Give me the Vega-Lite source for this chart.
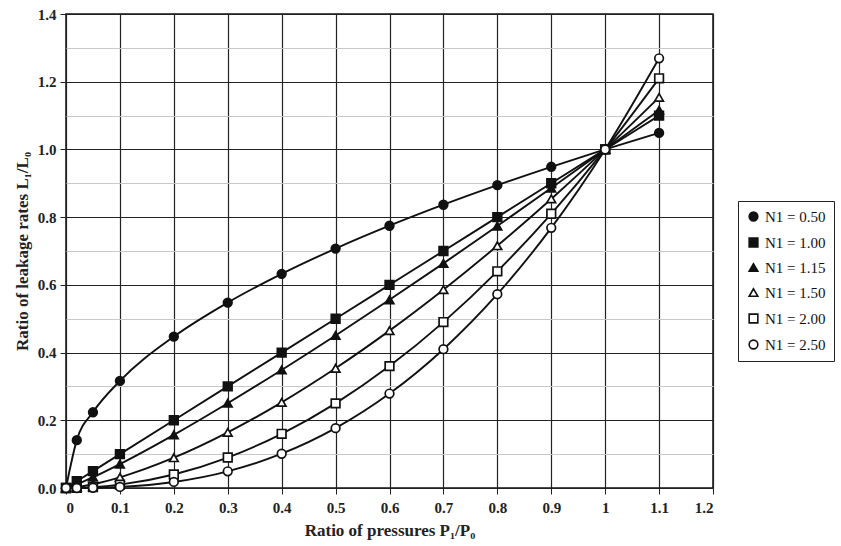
{
  "$schema": "https://vega.github.io/schema/vega-lite/v6.json",
  "autosize": "none",
  "width": 647,
  "height": 474,
  "padding": {"left": 66, "top": 14, "right": 128, "bottom": 58},
  "background": "white",
  "config": {
    "view": {"stroke": "#111", "strokeWidth": 1.5},
    "font": "Liberation Serif",
    "axis": {"labelFont": "Liberation Serif", "titleFont": "Liberation Serif", "labelColor": "#222", "titleColor": "#222"},
    "legend": {"orient": "none", "legendX": 672, "legendY": 187,
      "strokeColor": "#222", "padding": 8, "rowPadding": 9,
      "labelFont": "Liberation Serif", "labelFontSize": 15, "labelColor": "#111",
      "symbolStrokeWidth": 1.6}
  },
  "data": {"values": [
    {"x":0,"y":0,"s":"N1 = 0.50"},{"x":0.02,"y":0.1414,"s":"N1 = 0.50"},{"x":0.05,"y":0.2236,"s":"N1 = 0.50"},{"x":0.1,"y":0.3162,"s":"N1 = 0.50"},{"x":0.2,"y":0.4472,"s":"N1 = 0.50"},{"x":0.3,"y":0.5477,"s":"N1 = 0.50"},{"x":0.4,"y":0.6325,"s":"N1 = 0.50"},{"x":0.5,"y":0.7071,"s":"N1 = 0.50"},{"x":0.6,"y":0.7746,"s":"N1 = 0.50"},{"x":0.7,"y":0.8367,"s":"N1 = 0.50"},{"x":0.8,"y":0.8944,"s":"N1 = 0.50"},{"x":0.9,"y":0.9487,"s":"N1 = 0.50"},{"x":1,"y":1,"s":"N1 = 0.50"},{"x":1.1,"y":1.0488,"s":"N1 = 0.50"},
    {"x":0,"y":0,"s":"N1 = 1.00"},{"x":0.02,"y":0.02,"s":"N1 = 1.00"},{"x":0.05,"y":0.05,"s":"N1 = 1.00"},{"x":0.1,"y":0.1,"s":"N1 = 1.00"},{"x":0.2,"y":0.2,"s":"N1 = 1.00"},{"x":0.3,"y":0.3,"s":"N1 = 1.00"},{"x":0.4,"y":0.4,"s":"N1 = 1.00"},{"x":0.5,"y":0.5,"s":"N1 = 1.00"},{"x":0.6,"y":0.6,"s":"N1 = 1.00"},{"x":0.7,"y":0.7,"s":"N1 = 1.00"},{"x":0.8,"y":0.8,"s":"N1 = 1.00"},{"x":0.9,"y":0.9,"s":"N1 = 1.00"},{"x":1,"y":1,"s":"N1 = 1.00"},{"x":1.1,"y":1.1,"s":"N1 = 1.00"},
    {"x":0,"y":0,"s":"N1 = 1.15"},{"x":0.02,"y":0.0111,"s":"N1 = 1.15"},{"x":0.05,"y":0.0319,"s":"N1 = 1.15"},{"x":0.1,"y":0.0708,"s":"N1 = 1.15"},{"x":0.2,"y":0.1571,"s":"N1 = 1.15"},{"x":0.3,"y":0.2504,"s":"N1 = 1.15"},{"x":0.4,"y":0.3487,"s":"N1 = 1.15"},{"x":0.5,"y":0.4506,"s":"N1 = 1.15"},{"x":0.6,"y":0.5558,"s":"N1 = 1.15"},{"x":0.7,"y":0.6635,"s":"N1 = 1.15"},{"x":0.8,"y":0.7737,"s":"N1 = 1.15"},{"x":0.9,"y":0.8859,"s":"N1 = 1.15"},{"x":1,"y":1,"s":"N1 = 1.15"},{"x":1.1,"y":1.1158,"s":"N1 = 1.15"},
    {"x":0,"y":0,"s":"N1 = 1.50"},{"x":0.02,"y":0.0028,"s":"N1 = 1.50"},{"x":0.05,"y":0.0112,"s":"N1 = 1.50"},{"x":0.1,"y":0.0316,"s":"N1 = 1.50"},{"x":0.2,"y":0.0894,"s":"N1 = 1.50"},{"x":0.3,"y":0.1643,"s":"N1 = 1.50"},{"x":0.4,"y":0.253,"s":"N1 = 1.50"},{"x":0.5,"y":0.3536,"s":"N1 = 1.50"},{"x":0.6,"y":0.4648,"s":"N1 = 1.50"},{"x":0.7,"y":0.5857,"s":"N1 = 1.50"},{"x":0.8,"y":0.7155,"s":"N1 = 1.50"},{"x":0.9,"y":0.8538,"s":"N1 = 1.50"},{"x":1,"y":1,"s":"N1 = 1.50"},{"x":1.1,"y":1.1537,"s":"N1 = 1.50"},
    {"x":0,"y":0,"s":"N1 = 2.00"},{"x":0.02,"y":0.0004,"s":"N1 = 2.00"},{"x":0.05,"y":0.0025,"s":"N1 = 2.00"},{"x":0.1,"y":0.01,"s":"N1 = 2.00"},{"x":0.2,"y":0.04,"s":"N1 = 2.00"},{"x":0.3,"y":0.09,"s":"N1 = 2.00"},{"x":0.4,"y":0.16,"s":"N1 = 2.00"},{"x":0.5,"y":0.25,"s":"N1 = 2.00"},{"x":0.6,"y":0.36,"s":"N1 = 2.00"},{"x":0.7,"y":0.49,"s":"N1 = 2.00"},{"x":0.8,"y":0.64,"s":"N1 = 2.00"},{"x":0.9,"y":0.81,"s":"N1 = 2.00"},{"x":1,"y":1,"s":"N1 = 2.00"},{"x":1.1,"y":1.21,"s":"N1 = 2.00"},
    {"x":0,"y":0,"s":"N1 = 2.50"},{"x":0.02,"y":0.0001,"s":"N1 = 2.50"},{"x":0.05,"y":0.0006,"s":"N1 = 2.50"},{"x":0.1,"y":0.0032,"s":"N1 = 2.50"},{"x":0.2,"y":0.0179,"s":"N1 = 2.50"},{"x":0.3,"y":0.0493,"s":"N1 = 2.50"},{"x":0.4,"y":0.1012,"s":"N1 = 2.50"},{"x":0.5,"y":0.1768,"s":"N1 = 2.50"},{"x":0.6,"y":0.2789,"s":"N1 = 2.50"},{"x":0.7,"y":0.41,"s":"N1 = 2.50"},{"x":0.8,"y":0.5724,"s":"N1 = 2.50"},{"x":0.9,"y":0.7684,"s":"N1 = 2.50"},{"x":1,"y":1,"s":"N1 = 2.50"},{"x":1.1,"y":1.2691,"s":"N1 = 2.50"}
  ]},
  "encoding": {
    "x": {"field": "x", "type": "quantitative",
      "scale": {"domain": [0, 1.2], "nice": false, "zero": false},
      "axis": {"values": [0,0.1,0.2,0.3,0.4,0.5,0.6,0.7,0.8,0.9,1,1.1,1.2],
        "labelExpr": "format(datum.value, '.1~f')",
        "title": "Ratio of pressures  P₁/P₀",
        "titleFontSize": 17, "titleFontWeight": "bold", "titlePadding": 7,
        "labelFontSize": 15, "labelPadding": 6, "labelFontWeight": "bold",
        "domain": false, "tickColor": "#222", "tickSize": 6,
        "grid": true, "gridColor": "#222", "gridWidth": 1.2, "gridOpacity": 1}},
    "y": {"field": "y", "type": "quantitative",
      "scale": {"domain": [0, 1.4], "nice": false},
      "axis": {"values": [0,0.1,0.2,0.3,0.4,0.5,0.6,0.7,0.8,0.9,1,1.1,1.2,1.3,1.4],
        "labelExpr": "round(datum.value*10) % 2 == 0 ? format(datum.value, '.1f') : ''",
        "title": "Ratio of leakage rates L₁/L₀",
        "titleFontSize": 17, "titleFontWeight": "bold", "titlePadding": 6,
        "labelFontSize": 15, "labelPadding": 4, "labelFontWeight": "bold",
        "domain": false,
        "tickSize": {"condition": {"test": "round(datum.value*10) % 2 == 1", "value": 0}, "value": 6},
        "tickColor": "#222",
        "grid": true,
        "gridColor": {"condition": {"test": "round(datum.value*10) % 2 == 1", "value": "#c8c8c8"}, "value": "#222"},
        "gridWidth": {"condition": {"test": "round(datum.value*10) % 2 == 1", "value": 1}, "value": 1.2},
        "gridOpacity": 1}}
  },
  "layer": [
    {
      "mark": {"type": "line", "interpolate": "monotone", "color": "#111", "strokeWidth": 1.9},
      "encoding": {"detail": {"field": "s"}}
    },
    {
      "mark": {"type": "point", "strokeWidth": 1.7, "opacity": 1},
      "encoding": {
        "stroke": {"field": "s", "type": "nominal", "title": null,
          "scale": {"range": ["#111", "#111", "#111", "#111", "#111", "#111"]}},
        "shape": {"field": "s", "type": "nominal", "title": null,
          "scale": {"range": ["circle", "square", "triangle-up", "triangle-up", "square", "circle"]}},
        "fill": {"field": "s", "type": "nominal", "title": null,
          "scale": {"range": ["#111", "#111", "#111", "white", "white", "white"]}},
        "size": {"field": "s", "type": "nominal", "title": null,
          "scale": {"range": [75, 75, 40, 95, 95, 100]}}
      }
    }
  ]
}
